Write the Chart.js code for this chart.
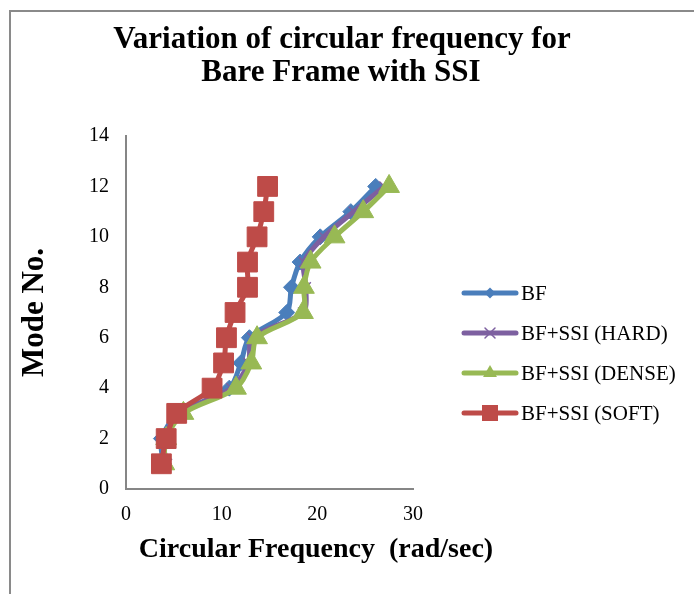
<!DOCTYPE html>
<html>
<head>
<meta charset="utf-8">
<script src="https://cdn.jsdelivr.net/npm/chart.js"></script>
<style>
    html, body { margin: 0; padding: 0; background: #fff; }
    canvas { display: block; }
</style>
</head>
<body>
<canvas id="freqChart" width="694" height="594"></canvas>
<script>
// mode numbers (y) and circular frequency per series (x, rad/sec)
const modeNos = [1, 2, 3, 4, 5, 6, 7, 8, 9, 10, 11, 12];
const bfFreq    = [3.9, 3.7, 5.5, 10.8, 12.0, 12.9, 16.8, 17.3, 18.2, 20.3, 23.5, 26.1];
const hardFreq  = [4.3, 3.9, 5.7, 11.0, 12.8, 13.2, 18.5, 18.8, 18.6, 20.7, 23.8, 27.0];
const denseFreq = [4.0, 4.2, 6.0, 11.5, 13.1, 13.7, 18.5, 18.6, 19.3, 21.8, 24.8, 27.5];
const softFreq  = [3.7, 4.2, 5.3, 9.0, 10.2, 10.5, 11.4, 12.7, 12.7, 13.7, 14.4, 14.8];

const seriesNames = ["BF", "BF+SSI (HARD)", "BF+SSI (DENSE)", "BF+SSI (SOFT)"];
const titleLines = ["Variation of circular frequency for", "Bare Frame with SSI"];
const xTitle = "Circular Frequency  (rad/sec)";
const yTitle = "Mode No.";
const xMin = 0, xMax = 30, xStep = 10;
const yMin = 0, yMax = 14, yStep = 2;

const SERIF = '"Liberation Serif", "Times New Roman", serif';

function toPoints(freqs) {
    return freqs.map((f, i) => ({ x: f, y: modeNos[i] }));
}

function series(label, freqs, color, style, radius, order) {
    return {
        label: label,
        data: toPoints(freqs),
        showLine: true,
        borderColor: color,
        backgroundColor: color,
        borderWidth: 5,
        tension: 0.3,
        pointStyle: style,
        pointRadius: radius,
        pointHoverRadius: radius,
        pointBackgroundColor: color,
        pointBorderColor: color,
        pointBorderWidth: style === 'crossRot' ? 1.5 : 1,
        order: order
    };
}

// little legend marker, drawn by hand
function legendMarker(ctx, style, x, y, r, color) {
    ctx.save();
    ctx.fillStyle = color;
    ctx.strokeStyle = color;
    ctx.lineWidth = 1.5;
    ctx.beginPath();
    switch (style) {
        case 'rectRot':
            ctx.moveTo(x, y - r); ctx.lineTo(x + r, y); ctx.lineTo(x, y + r); ctx.lineTo(x - r, y);
            ctx.closePath(); ctx.fill();
            break;
        case 'crossRot':
            ctx.moveTo(x - r, y - r); ctx.lineTo(x + r, y + r);
            ctx.moveTo(x + r, y - r); ctx.lineTo(x - r, y + r);
            ctx.stroke();
            break;
        case 'triangle':
            ctx.moveTo(x, y - r); ctx.lineTo(x + r * 0.87, y + r * 0.5); ctx.lineTo(x - r * 0.87, y + r * 0.5);
            ctx.closePath(); ctx.fill();
            break;
        case 'rect':
            ctx.rect(x - r, y - r, 2 * r, 2 * r); ctx.fill();
            break;
    }
    ctx.restore();
}

const decor = {
    id: 'decor',
    beforeDraw(chart) {
        const ctx = chart.ctx;
        ctx.save();
        ctx.strokeStyle = '#8a8a8a';
        ctx.lineWidth = 2;
        ctx.beginPath();
        ctx.moveTo(10, 594); ctx.lineTo(10, 11); ctx.lineTo(694, 11);
        ctx.stroke();
        ctx.restore();
    },
    afterDraw(chart) {
        const ctx = chart.ctx;
        ctx.save();
        ctx.fillStyle = '#000';
        ctx.textAlign = 'center';
        ctx.textBaseline = 'middle';
        ctx.font = 'bold 31px ' + SERIF;
        ctx.fillText(titleLines[0], 342, 40);
        ctx.fillText(titleLines[1], 341, 73);

        ctx.font = 'bold 28px ' + SERIF;
        ctx.fillText(xTitle, 316, 550);

        // legend
        const legendY = [293, 333, 373, 413];
        const markR = [5.5, 5, 8, 8];
        ctx.font = '21px ' + SERIF;
        ctx.textAlign = 'left';
        chart.data.datasets.forEach((ds, i) => {
            const y = legendY[i];
            ctx.strokeStyle = ds.borderColor;
            ctx.lineWidth = 5;
            ctx.lineCap = 'round';
            ctx.beginPath();
            ctx.moveTo(464, y); ctx.lineTo(516, y);
            ctx.stroke();
            legendMarker(ctx, ds.pointStyle, 490, y, markR[i], ds.borderColor);
            ctx.fillStyle = '#000';
            ctx.fillText(ds.label, 521, y + 1);
        });
        ctx.restore();
    }
};

let ctx = document.getElementById('freqChart').getContext('2d');
let chart = new Chart(ctx, {
    type: 'scatter',
    data: {
        datasets: [
            series(seriesNames[0], bfFreq, '#4A7EBB', 'rectRot', 8, 4),
            series(seriesNames[1], hardFreq, '#7D60A0', 'crossRot', 7, 3),
            series(seriesNames[2], denseFreq, '#98B954', 'triangle', 12, 2),
            series(seriesNames[3], softFreq, '#BE4B48', 'rect', 14, 1)
        ]
    },
    options: {
        responsive: false,
        animation: false,
        layout: { padding: { left: 0, top: 136, right: 281, bottom: 0 } },
        plugins: {
            legend: { display: false },
            title: { display: false },
            tooltip: { enabled: false }
        },
        scales: {
            x: {
                type: 'linear',
                min: xMin, max: xMax,
                ticks: { stepSize: xStep, color: '#000', padding: 14, font: { family: SERIF, size: 20 } },
                grid: { display: false, drawTicks: false },
                border: { display: true, color: '#868686', width: 2 },
                afterFit: s => { s.height = 594 - 489; }
            },
            y: {
                type: 'linear',
                min: yMin, max: yMax,
                ticks: { stepSize: yStep, color: '#000', padding: 17, font: { family: SERIF, size: 20 } },
                grid: { display: false, drawTicks: false },
                border: { display: true, color: '#868686', width: 2 },
                title: {
                    display: true, text: yTitle, color: '#000',
                    font: { family: SERIF, size: 31, weight: 'bold' },
                    padding: { top: 16, bottom: 0 }
                },
                afterFit: s => { s.width = 126; }
            }
        }
    },
    plugins: [decor]
});
</script>
</body>
</html>
